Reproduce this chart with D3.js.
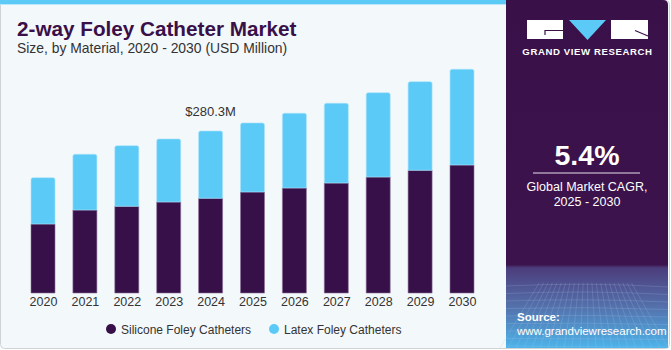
<!DOCTYPE html>
<html><head><meta charset="utf-8">
<script src="https://cdn.jsdelivr.net/npm/d3@7"></script>
<style>
html,body{margin:0;padding:0;background:#fff;}
svg{display:block;font-family:"Liberation Sans",Arial,sans-serif;}
</style></head>
<body>
<svg id="c" width="671" height="350"></svg>
<script>
const years = ["2020","2021","2022","2023","2024","2025","2026","2027","2028","2029","2030"];
const silicone = [119.4,143.6,150.0,157.5,163.9,174.8,181.7,190.3,200.7,212.3,221.5];
const latex = [80.1,96.4,104.9,109.0,116.4,119.4,129.3,138.0,145.9,153.4,165.6];
const seriesNames = ["Silicone Foley Catheters","Latex Foley Catheters"];
const seriesColors = ["#371049","#5ccaf7"];
const annotationYear = "2024";
const annotationText = "$280.3M";

const svg = d3.select("#c");
const defs = svg.append("defs");

// background frame
svg.append("rect").attr("x",0.5).attr("y",0.5).attr("width",669).attr("height",348).attr("rx",4)
  .attr("fill","#f3f8fb").attr("stroke","#cfd3d6");
svg.append("rect").attr("x",0).attr("y",0).attr("width",510).attr("height",4).attr("fill","#5ccaf7");
svg.append("rect").attr("x",0).attr("y",4).attr("width",510).attr("height",1).attr("fill","#b9e6fa");

// title
svg.append("text").attr("x",17).attr("y",36).attr("font-size",20.7).attr("font-weight","bold")
  .attr("fill","#3a1049").text("2-way Foley Catheter Market");
svg.append("text").attr("x",17).attr("y",53).attr("font-size",13.9)
  .attr("fill","#333").text("Size, by Material, 2020 - 2030 (USD Million)");

// data table
const table = years.map((y,i)=>({year:y, s:silicone[i], l:latex[i]}));
const stack = d3.stack().keys(["s","l"])(table);

const x = d3.scalePoint().domain(years).range([43,462]);
const y = d3.scaleLinear().domain([0,400]).range([293, 293-400*162/280.3]);
const bw = 24;

const g = svg.append("g");
stack.forEach((layer,li)=>{
  g.selectAll(null).data(layer).enter().append("path")
    .attr("fill",seriesColors[li])
    .attr("stroke", li===0 ? "#8a6f98" : "#a9e2fa")
    .attr("stroke-width",0.6)
    .attr("d",d=>{
      const x0 = x(d.data.year)-bw/2, x1 = x0+bw;
      const yt = y(d[1]), yb = y(d[0]);
      const r = li===1 ? 2 : 0;
      return `M${x0},${yb}V${yt+r}Q${x0},${yt} ${x0+r},${yt}H${x1-r}Q${x1},${yt} ${x1},${yt+r}V${yb}Z`;
    });
});

// x axis labels
const xa = svg.append("g").attr("transform","translate(0,297)")
  .call(d3.axisBottom(x).tickSize(0).tickPadding(0));
xa.select(".domain").remove();
xa.selectAll("text").attr("font-size",12.5).attr("fill","#333")
  .attr("font-family","Liberation Sans, Arial, sans-serif").attr("dy","0.71em");

// annotation
const ai = years.indexOf(annotationYear);
svg.append("text").attr("x",x(annotationYear)).attr("y",y(silicone[ai]+latex[ai])-15)
  .attr("text-anchor","middle").attr("font-size",13).attr("fill","#333").text(annotationText);

// legend
const lg = svg.append("g");
const legX = [111,274];
seriesNames.forEach((n,i)=>{
  lg.append("circle").attr("cx",legX[i]).attr("cy",329).attr("r",5).attr("fill",seriesColors[i]);
  lg.append("text").attr("x",legX[i]+10).attr("y",333.5).attr("font-size",12).attr("fill","#333").text(n);
});

// right panel
const grad = defs.append("linearGradient").attr("id","pg").attr("x1",0).attr("y1",0).attr("x2",0).attr("y2",1);
grad.append("stop").attr("offset","0").attr("stop-color","#3a1049");
grad.append("stop").attr("offset","0.76").attr("stop-color","#3c134c");
grad.append("stop").attr("offset","0.77").attr("stop-color","#4c3d7c");
grad.append("stop").attr("offset","0.88").attr("stop-color","#5470ab");
grad.append("stop").attr("offset","1").attr("stop-color","#4cb4ea");
svg.append("path").attr("d","M506,0H663Q668,0 668,5V348H506Z").attr("fill","url(#pg)");

// mesh
const mesh = svg.append("g").attr("stroke","#a9c4ee").attr("stroke-opacity",0.35).attr("stroke-width",0.6).attr("fill","none");
for(let i=0;i<9;i++){
  const yy = 286 + i*7.5;
  mesh.append("path").attr("d",`M506,${yy} Q587,${yy-4+i*0.6} 668,${yy+1}`);
}
for(let i=0;i<22;i++){
  const xx = 500 + i*8;
  mesh.append("path").attr("d",`M${587+(xx-587)*0.55},283 L${xx},348`);
}

// logo
const logo = svg.append("g");
logo.append("rect").attr("x",527).attr("y",20).attr("width",36).attr("height",19).attr("fill","#fff");
logo.append("path").attr("d","M545,35V30.5H563").attr("stroke","#3a1049").attr("stroke-width",1.2).attr("fill","none");
logo.append("path").attr("d","M569,20H606L587.5,40Z").attr("fill","#5ccaf7");
logo.append("rect").attr("x",611).attr("y",20).attr("width",37).attr("height",19).attr("fill","#fff");
logo.append("path").attr("d","M635,30.5L648,36").attr("stroke","#3a1049").attr("stroke-width",1.2).attr("fill","none");
logo.append("text").attr("x",587.5).attr("y",54.5).attr("text-anchor","middle").attr("font-size",9.6)
  .attr("font-weight","bold").attr("letter-spacing",0.6).attr("fill","#fff").text("GRAND VIEW RESEARCH");

svg.append("text").attr("x",587).attr("y",165).attr("text-anchor","middle").attr("font-size",28.5)
  .attr("font-weight","bold").attr("fill","#fff").text("5.4%");
svg.append("line").attr("x1",533).attr("x2",640).attr("y1",173).attr("y2",173).attr("stroke","#e6e0ea").attr("stroke-width",1.2);
svg.append("text").attr("x",587).attr("y",190.5).attr("text-anchor","middle").attr("font-size",12.5)
  .attr("fill","#fff").text("Global Market CAGR,");
svg.append("text").attr("x",587).attr("y",205.5).attr("text-anchor","middle").attr("font-size",12.5)
  .attr("fill","#fff").text("2025 - 2030");

svg.append("text").attr("x",517).attr("y",321).attr("font-size",11.5).attr("font-weight","bold")
  .attr("fill","#fff").text("Source:");
svg.append("text").attr("x",517).attr("y",334.5).attr("font-size",11.5)
  .attr("fill","#fff").text("www.grandviewresearch.com");
</script>
</body></html>
